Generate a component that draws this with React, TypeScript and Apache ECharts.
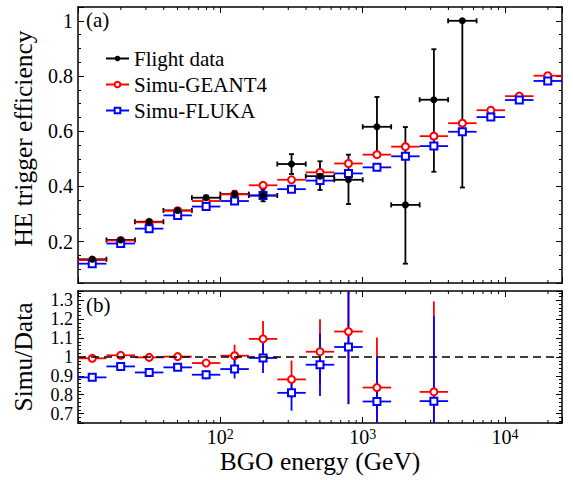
import React, { useEffect, useRef } from 'react';
import * as echarts from 'echarts';

// Energy bins (GeV), 0.2 decade wide
const binEdges = [10, 15.85, 25.12, 39.81, 63.1, 100, 158.5, 251.2, 398.1, 631, 1000, 1585, 2512, 3981, 6310, 10000, 15850, 25120];
const binCenters = [12.59, 19.95, 31.62, 50.12, 79.43, 125.9, 199.5, 316.2, 501.2, 794.3, 1259, 1995, 3162, 5012, 7943, 12590, 19950];

// Panel (a): HE trigger efficiency
const flight = [0.136, 0.206, 0.272, 0.313, 0.359, 0.372, 0.367, 0.481, 0.437, 0.424, 0.616, 0.333, 0.714, 1.0];
const flightErrLow = [0.005, 0.006, 0.006, 0.007, 0.008, 0.012, 0.021, 0.036, 0.05, 0.088, 0.108, 0.213, 0.261, 0.604];
const flightErrHigh = [0.005, 0.006, 0.006, 0.007, 0.008, 0.012, 0.021, 0.036, 0.054, 0.091, 0.108, 0.282, 0.183, 0.0];
const geant4 = [0.133, 0.204, 0.270, 0.312, 0.347, 0.371, 0.404, 0.424, 0.451, 0.483, 0.515, 0.544, 0.582, 0.629, 0.676, 0.727, 0.801];
const fluka = [0.120, 0.193, 0.247, 0.295, 0.327, 0.347, 0.367, 0.390, 0.421, 0.447, 0.469, 0.509, 0.546, 0.598, 0.651, 0.713, 0.782];

// Panel (b): Simu/Data
const ratioG4 = [0.993, 1.009, 0.998, 1.002, 0.968, 1.007, 1.096, 0.881, 1.028, 1.135, 0.838, null, 0.815];
const ratioG4Err = [0.006, 0.008, 0.008, 0.02, 0.02, 0.058, 0.095, 0.1, 0.172, 0.385, 0.265, null, 0.48];
const ratioFluka = [0.892, 0.950, 0.918, 0.945, 0.906, 0.936, 0.995, 0.81, 0.959, 1.053, 0.764, null, 0.766];
const ratioFlukaErr = [0.012, 0.015, 0.015, 0.02, 0.025, 0.05, 0.08, 0.095, 0.166, 0.303, 0.236, null, 0.45];

// Log-axis minor tick positions
const xMinorTicks = [20, 30, 40, 50, 60, 70, 80, 90, 200, 300, 400, 500, 600, 700, 800, 900, 2000, 3000, 4000, 5000, 6000, 7000, 8000, 9000, 20000];

const FONT = '"Liberation Serif", "Times New Roman", serif';
const BLACK = '#000000';
const RED = '#ff0000';
const BLUE = '#0000ff';

function errorData(vals: (number | null)[], errLo?: (number | null)[], errHi?: (number | null)[]) {
  const out: number[][] = [];
  vals.forEach((v, i) => {
    if (v == null) return;
    const lo = errLo ? (errLo[i] as number) : 0;
    const hi = errHi ? (errHi[i] as number) : 0;
    out.push([binCenters[i], v, binEdges[i], binEdges[i + 1], v - lo, v + hi]);
  });
  return out;
}

function markerData(vals: (number | null)[]) {
  const out: number[][] = [];
  vals.forEach((v, i) => {
    if (v == null) return;
    out.push([binCenters[i], v]);
  });
  return out;
}

function errRender(color: string, lw: number, cap: number, vertical: boolean) {
  return (params: any, api: any) => {
    const x = api.value(0);
    const y = api.value(1);
    const pL = api.coord([api.value(2), y]);
    const pH = api.coord([api.value(3), y]);
    const style = { stroke: color, lineWidth: lw };
    const children: any[] = [
      { type: 'line', shape: { x1: pL[0], y1: pL[1], x2: pH[0], y2: pH[1] }, style },
    ];
    if (cap > 0) {
      children.push({ type: 'line', shape: { x1: pL[0], y1: pL[1] - cap, x2: pL[0], y2: pL[1] + cap }, style });
      children.push({ type: 'line', shape: { x1: pH[0], y1: pH[1] - cap, x2: pH[0], y2: pH[1] + cap }, style });
    }
    if (vertical) {
      const pB = api.coord([x, api.value(4)]);
      const pT = api.coord([x, api.value(5)]);
      children.push({ type: 'line', shape: { x1: pB[0], y1: pB[1], x2: pT[0], y2: pT[1] }, style });
      if (cap > 0) {
        children.push({ type: 'line', shape: { x1: pB[0] - cap, y1: pB[1], x2: pB[0] + cap, y2: pB[1] }, style });
        children.push({ type: 'line', shape: { x1: pT[0] - cap, y1: pT[1], x2: pT[0] + cap, y2: pT[1] }, style });
      }
    }
    return { type: 'group', children };
  };
}

function minorTickRender(params: any, api: any) {
  const cs = params.coordSys;
  const px = api.coord([api.value(0), api.value(1)])[0];
  const style = { stroke: BLACK, lineWidth: 1 };
  return {
    type: 'group',
    children: [
      { type: 'line', shape: { x1: px, y1: cs.y + cs.height, x2: px, y2: cs.y + cs.height - 3 }, style },
      { type: 'line', shape: { x1: px, y1: cs.y, x2: px, y2: cs.y + 3 }, style },
    ],
  };
}

const lineStyleAxis = { color: BLACK, width: 1.5 };
const tickStyle = { color: BLACK, width: 1 };

function xAxisCfg(gridIndex: number, position: string, showLabel: boolean, name?: string) {
  return {
    type: 'log',
    logBase: 10,
    gridIndex,
    position,
    min: 10,
    max: 25119,
    axisLine: { show: true, onZero: false, lineStyle: lineStyleAxis },
    axisTick: { show: true, inside: true, length: 6, lineStyle: tickStyle },
    minorTick: { show: false },
    splitLine: { show: false },
    axisLabel: showLabel
      ? {
          show: true,
          margin: 4,
          color: BLACK,
          fontFamily: FONT,
          fontSize: 20,
          lineHeight: 20,
          formatter: (v: number) => {
            const l = Math.log10(v);
            const e = Math.round(l);
            if (Math.abs(l - e) < 1e-6 && e >= 2 && e <= 4) return `10{sup|${e}}`;
            return '';
          },
          rich: {
            sup: { fontSize: 14, fontFamily: FONT, color: BLACK, verticalAlign: 'top', lineHeight: 14 },
          },
        }
      : { show: false },
    name: name,
    nameLocation: 'middle',
    nameGap: 25,
    nameTextStyle: { fontSize: 25.5, fontFamily: FONT, color: BLACK },
  };
}

function yAxisCfg(gridIndex: number, position: string, min: number, max: number, splitNumber: number, minorSplit: number, showLabel: boolean, labelSize: number, name?: string, namePad?: number[]) {
  return {
    type: 'value',
    gridIndex,
    position,
    min,
    max,
    splitNumber,
    axisLine: { show: true, onZero: false, lineStyle: lineStyleAxis },
    axisTick: { show: true, inside: true, length: 6, lineStyle: tickStyle },
    minorTick: { show: true, splitNumber: minorSplit, length: 3, lineStyle: tickStyle },
    splitLine: { show: false },
    minorSplitLine: { show: false },
    axisLabel: showLabel
      ? { show: true, margin: 5, color: BLACK, fontFamily: FONT, fontSize: labelSize, lineHeight: labelSize - 2, showMinLabel: false, showMaxLabel: false }
      : { show: false },
    name: name,
    nameLocation: 'middle',
    nameGap: 42,
    nameTextStyle: { fontSize: 25.5, fontFamily: FONT, color: BLACK, padding: namePad || [0, 0, 0, 0] },
  };
}

export default function App() {
  const ref = useRef<HTMLDivElement>(null);
  useEffect(() => {
    if (!ref.current) return;
    const chart = echarts.init(ref.current, null, { renderer: 'svg' });
    const option: any = {
      animation: false,
      backgroundColor: '#ffffff',
      textStyle: { fontFamily: FONT },
      grid: [
        { left: 78, right: 11, top: 7, height: 276 },
        { left: 78, right: 11, top: 291, height: 132 },
      ],
      xAxis: [
        xAxisCfg(0, 'bottom', false),
        xAxisCfg(0, 'top', false),
        xAxisCfg(1, 'bottom', true, 'BGO energy (GeV)'),
        xAxisCfg(1, 'top', false),
      ],
      yAxis: [
        yAxisCfg(0, 'left', 0.05, 1.05, 5, 4, true, 20, 'HE trigger efficiency', [0, 0, 0, 13]),
        yAxisCfg(0, 'right', 0.05, 1.05, 5, 4, false, 20),
        yAxisCfg(1, 'left', 0.65, 1.35, 7, 5, true, 18, 'Simu/Data'),
        yAxisCfg(1, 'right', 0.65, 1.35, 7, 5, false, 18),
      ],
      legend: {
        data: [
          { name: 'Flight data', lineStyle: { width: 2, color: BLACK, opacity: 1 } },
          { name: 'Simu-GEANT4', lineStyle: { width: 2, color: RED, opacity: 1 } },
          { name: 'Simu-FLUKA', lineStyle: { width: 2, color: BLUE, opacity: 1 } },
        ],
        orient: 'vertical',
        left: 105,
        top: 48,
        padding: 0,
        itemWidth: 23,
        itemHeight: 7,
        itemGap: 5,
        selectedMode: false,
        textStyle: { fontSize: 21, fontFamily: FONT, color: BLACK, lineHeight: 21 },
      },
      graphic: [
        { type: 'text', x: 86, y: 20, style: { text: '(a)', fontSize: 21, fontFamily: FONT, fill: BLACK, verticalAlign: 'middle' } },
        { type: 'text', x: 86, y: 305, style: { text: '(b)', fontSize: 21, fontFamily: FONT, fill: BLACK, verticalAlign: 'middle' } },
      ],
      series: [
        // minor ticks on log axes
        { type: 'custom', xAxisIndex: 0, yAxisIndex: 0, silent: true, renderItem: minorTickRender, data: xMinorTicks.map((v) => [v, 0.5]), encode: { x: 0, y: 1 } },
        { type: 'custom', xAxisIndex: 2, yAxisIndex: 2, silent: true, renderItem: minorTickRender, data: xMinorTicks.map((v) => [v, 1]), encode: { x: 0, y: 1 } },
        // panel (a) error bars
        { type: 'custom', xAxisIndex: 0, yAxisIndex: 0, silent: true, clip: true, renderItem: errRender(BLACK, 1.8, 2.5, true), data: errorData(flight, flightErrLow, flightErrHigh), encode: { x: 0, y: 1 }, z: 3 },
        { type: 'custom', xAxisIndex: 0, yAxisIndex: 0, silent: true, clip: true, renderItem: errRender(RED, 1.8, 0, false), data: errorData(geant4), encode: { x: 0, y: 1 }, z: 3 },
        { type: 'custom', xAxisIndex: 0, yAxisIndex: 0, silent: true, clip: true, renderItem: errRender(BLUE, 1.8, 0, false), data: errorData(fluka), encode: { x: 0, y: 1 }, z: 3 },
        // panel (a) markers
        { type: 'line', name: 'Simu-GEANT4', xAxisIndex: 0, yAxisIndex: 0, silent: true, data: markerData(geant4), symbol: 'emptyCircle', symbolSize: 7, showSymbol: true, lineStyle: { width: 0, opacity: 0 }, itemStyle: { color: RED, borderWidth: 1.4 }, z: 4 },
        { type: 'line', name: 'Simu-FLUKA', xAxisIndex: 0, yAxisIndex: 0, silent: true, data: markerData(fluka), symbol: 'emptyRect', symbolSize: 7, showSymbol: true, lineStyle: { width: 0, opacity: 0 }, itemStyle: { color: BLUE, borderWidth: 1.4 }, z: 4 },
        { type: 'line', name: 'Flight data', xAxisIndex: 0, yAxisIndex: 0, silent: true, data: markerData(flight), symbol: 'circle', symbolSize: 7, showSymbol: true, lineStyle: { width: 0, opacity: 0 }, itemStyle: { color: BLACK }, z: 5 },
        // panel (b) error bars
        { type: 'custom', xAxisIndex: 2, yAxisIndex: 2, silent: true, clip: true, renderItem: errRender(RED, 1.8, 0, true), data: errorData(ratioG4, ratioG4Err, ratioG4Err), encode: { x: 0, y: 1 }, z: 3 },
        { type: 'custom', xAxisIndex: 2, yAxisIndex: 2, silent: true, clip: true, renderItem: errRender(BLUE, 1.8, 0, true), data: errorData(ratioFluka, ratioFlukaErr, ratioFlukaErr), encode: { x: 0, y: 1 }, z: 3 },
        // panel (b) markers
        {
          type: 'line', name: 'ratioG4', xAxisIndex: 2, yAxisIndex: 2, silent: true, data: markerData(ratioG4), symbol: 'emptyCircle', symbolSize: 7, showSymbol: true, lineStyle: { width: 0, opacity: 0 }, itemStyle: { color: RED, borderWidth: 1.4 }, z: 4,
          markLine: { silent: true, symbol: 'none', label: { show: false }, lineStyle: { color: BLACK, width: 1.5, type: [8, 5] }, data: [{ yAxis: 1 }] },
        },
        { type: 'line', name: 'ratioFluka', xAxisIndex: 2, yAxisIndex: 2, silent: true, data: markerData(ratioFluka), symbol: 'emptyRect', symbolSize: 7, showSymbol: true, lineStyle: { width: 0, opacity: 0 }, itemStyle: { color: BLUE, borderWidth: 1.4 }, z: 4 },
      ],
    };
    chart.setOption(option);
    return () => chart.dispose();
  }, []);
  return <div ref={ref} style={{ position: 'fixed', left: 0, top: 0, width: 573, height: 480, background: '#fff' }} />;
}
